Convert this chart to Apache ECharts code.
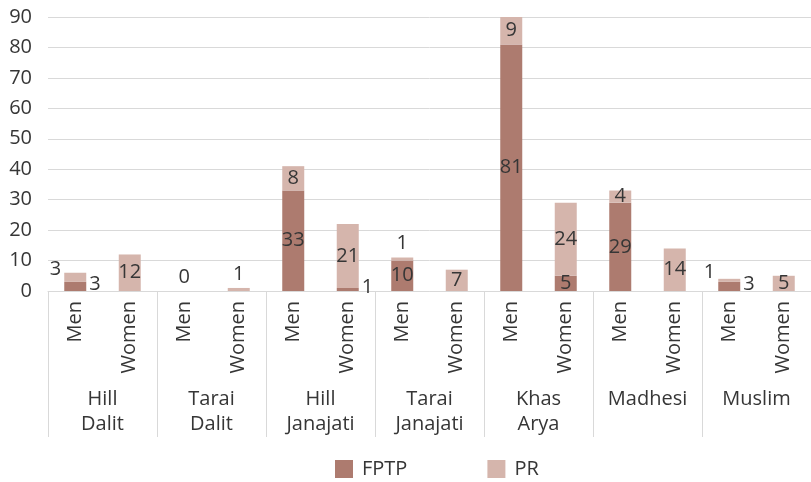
<!DOCTYPE html>
<html>
<head>
<meta charset="utf-8">
<script src="https://cdn.jsdelivr.net/npm/echarts@6/dist/echarts.min.js"></script>
<style>
  html, body { margin: 0; padding: 0; background: #fff; }
  #chart { width: 811px; height: 482px; }
</style>
</head>
<body>
<div id="chart"></div>
<script>
// groups and the two bars inside each group
var groups = ['Hill\nDalit', 'Tarai\nDalit', 'Hill\nJanajati', 'Tarai\nJanajati', 'Khas\nArya', 'Madhesi', 'Muslim'];
var genders = ['Men', 'Women'];

// seats, one value per bar (Men, Women for each group)
var fptp = [3, null, 0, null, 33, 1, 10, null, 81, 5, 29, null, 3, null];
var pr = [3, 12, null, 1, 8, 21, 1, 7, 9, 24, 4, 14, 1, 5];

var yTicks = { min: 0, max: 90, step: 10 };

// where the small labels sit (default is in the middle of the bar)
var fptpLabelAt = { 0: 'right', 2: 'top', 5: 'right', 12: 'right' };
var prLabelAt = { 0: 'leftUp', 3: 'top', 6: 'top', 12: 'leftUp' };

var textColor = '#363636';
var lineColor = '#d9d9d9';
var fontSize = 20;

var categories = [];
for (var g = 0; g < groups.length; g++) {
    for (var k = 0; k < genders.length; k++) {
        categories.push(genders[k]);
    }
}

function labelFor(pos) {
    if (pos === 'right') return { position: 'right', distance: 3, offset: [0, -2] };
    if (pos === 'top') return { position: 'top', distance: 4 };
    if (pos === 'leftUp') return { position: 'left', distance: 3, offset: [0, -8] };
    return undefined;
}

function buildData(values, labelAt) {
    return values.map(function (v, i) {
        if (v === null) return '-';
        var item = { value: v };
        var lab = labelFor(labelAt[i]);
        if (lab) item.label = lab;
        return item;
    });
}

var myChart = echarts.init(document.getElementById('chart'));

var labelStyle = {
    show: true,
    position: 'inside',
    color: textColor,
    fontSize: fontSize,
    fontFamily: 'Open Sans'
};

var option = {
    animation: false,
    textStyle: { fontFamily: 'Open Sans' },
    grid: { left: 48, right: -7, top: 17, bottom: 191 },
    legend: {
        left: 335,
        top: 459,
        padding: 0,
        itemWidth: 18,
        itemHeight: 18,
        itemGap: 80,
        icon: 'rect',
        textStyle: { color: textColor, fontSize: fontSize, fontFamily: 'Open Sans', padding: [0, 0, 0, 4] },
        data: ['FPTP', 'PR']
    },
    xAxis: [
        {
            type: 'category',
            data: categories,
            axisLine: { show: true, lineStyle: { color: lineColor, width: 1 } },
            axisTick: { show: false },
            axisLabel: {
                interval: 0,
                rotate: 90,
                margin: 10,
                color: textColor,
                fontSize: fontSize,
                fontFamily: 'Open Sans'
            }
        },
        {
            type: 'category',
            data: groups,
            position: 'bottom',
            axisLine: { show: false },
            axisTick: { show: true, interval: 0, length: 146, lineStyle: { color: lineColor } },
            axisLabel: {
                interval: 0,
                margin: 96,
                color: textColor,
                fontSize: fontSize,
                lineHeight: 25,
                fontFamily: 'Open Sans'
            }
        }
    ],
    yAxis: {
        type: 'value',
        min: yTicks.min,
        max: yTicks.max,
        interval: yTicks.step,
        axisLine: { show: false },
        axisTick: { show: false },
        splitLine: { lineStyle: { color: lineColor } },
        axisLabel: { color: textColor, fontSize: fontSize, margin: 16, fontFamily: 'Open Sans' }
    },
    series: [
        {
            name: 'FPTP',
            type: 'bar',
            stack: 'seats',
            barWidth: 22,
            itemStyle: { color: '#ad7b6f' },
            label: labelStyle,
            data: buildData(fptp, fptpLabelAt)
        },
        {
            name: 'PR',
            type: 'bar',
            stack: 'seats',
            barWidth: 22,
            itemStyle: { color: '#d5b5ac' },
            label: labelStyle,
            data: buildData(pr, prLabelAt)
        }
    ]
};

option && myChart.setOption(option);
</script>
</body>
</html>
